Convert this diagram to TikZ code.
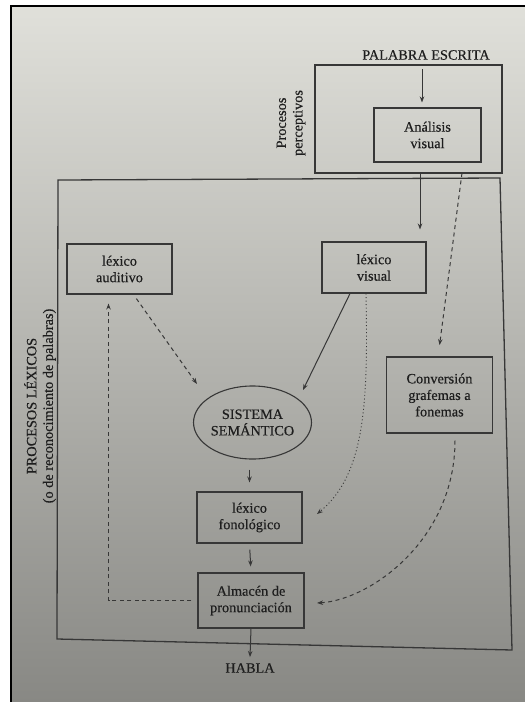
\documentclass[tikz,border=0pt]{standalone}
\usepackage{fontspec}
\setmainfont{Liberation Serif}
\newfontfamily\pf{Liberation Serif}[FakeBold=0.4]
\usetikzlibrary{arrows.meta,shapes.geometric}
\definecolor{ink}{RGB}{30,30,30}
\definecolor{linec}{RGB}{55,55,55}
\definecolor{bgtop}{RGB}{224,224,218}
\definecolor{bgmid}{RGB}{196,196,191}
\definecolor{bgbot}{RGB}{136,136,132}
\begin{document}
\begin{tikzpicture}[x=1pt,y=-1pt,
  txt/.style={text=ink, font=\pf\fontsize{14.3}{16.5}\selectfont, align=center, inner sep=0pt},
  box/.style={txt, draw=linec, line width=1.1pt, rectangle},
  arr/.style={draw=linec, line width=1pt, -{Stealth[length=6pt,width=4.5pt]}},
  dsh/.style={arr, dash pattern=on 4pt off 3.5pt},
  dotl/.style={arr, dash pattern=on 1pt off 2.5pt, line width=0.9pt},
]
\useasboundingbox (0,0) rectangle (525,702);
\fill[white] (0,0) rectangle (525,702);
\shade[top color=bgtop, middle color=bgmid, bottom color=bgbot] (11,6) rectangle (525,702);
\draw[black, line width=2pt] (11,702) -- (11,6) -- (525,6);

% perceptual part
\node[txt] (palabra) at (426,55) {PALABRA ESCRITA};
\node[box, minimum width=187pt, minimum height=108pt] (percep) at (408.5,119) {};
\node[box, minimum width=107pt, minimum height=54pt] (analisis) at (427.5,135) {Análisis\\visual};
\node[txt, rotate=90] (perclab) at (291,123) {Procesos\\perceptivos};

% lexical box
\coordinate (b1) at (58,180);
\coordinate (b2) at (500,178);
\coordinate (b3) at (512,650);
\coordinate (b4) at (57,639);
\draw[linec, line width=1.3pt] (b1) -- (b2) -- (b3) -- (b4) -- cycle;
\node[txt, rotate=90] (lexlab) at (40,406) {PROCESOS LÉXICOS\\(o de reconocimiento de palabras)};

\node[box, minimum width=105pt, minimum height=50pt] (lexaud) at (119.5,269) {léxico\\auditivo};
\node[box, minimum width=104pt, minimum height=51pt] (lexvis) at (374,267.5) {léxico\\visual};
\node[box, minimum width=106pt, minimum height=76pt] (conv) at (439.5,395) {Conversión\\grafemas a\\fonemas};
\node[txt, draw=linec, line width=1.1pt, ellipse, minimum width=111pt, minimum height=73pt] (sem) at (252.5,422.5) {SISTEMA\\SEMÁNTICO};
\node[box, minimum width=105pt, minimum height=51pt] (lexfon) at (249.5,517.5) {léxico\\fonológico};
\node[box, minimum width=106pt, minimum height=55pt] (alm) at (251,600.5) {Almacén de\\pronunciación};
\node[txt] (habla) at (250,668) {HABLA};

% connectors
\draw[arr, shorten >=5pt, shorten <=9pt] ([xshift=-4pt]palabra.south) -- ([xshift=-5.5pt]analisis.north);
\coordinate (pv) at (420,173);
\draw[arr, shorten >=12pt] (pv) -- (pv |- lexvis.north);
\coordinate (pc) at (462,173);
\coordinate (pce) at (438,357);
\draw[dsh, shorten >=12pt] (pc) -- (pce);
\draw[arr] ([xshift=-24pt]lexvis.south) -- (303,390);
\draw[dsh, shorten <=5pt] ([xshift=14pt]lexaud.south) -- (197,384);
\draw[dotl] ([xshift=-8pt]lexvis.south) .. controls (368,400) and (366,474) .. (317,514);
\draw[arr, shorten <=10pt, shorten >=9pt] (sem.south -| lexfon.north) -- (lexfon.north);
\draw[arr, shorten <=6pt, shorten >=6pt] (lexfon.south) -- (alm.north);
\draw[arr] (alm.south) -- ([yshift=6pt]habla.north);
\draw[dsh, shorten <=6pt, shorten >=9pt] (alm.west) -| ([xshift=-11pt]lexaud.south);
\draw[dsh] ([xshift=15.5pt,yshift=-7pt]conv.south) .. controls (455,540) and (370,600) .. (317,603);
\end{tikzpicture}
\end{document}
